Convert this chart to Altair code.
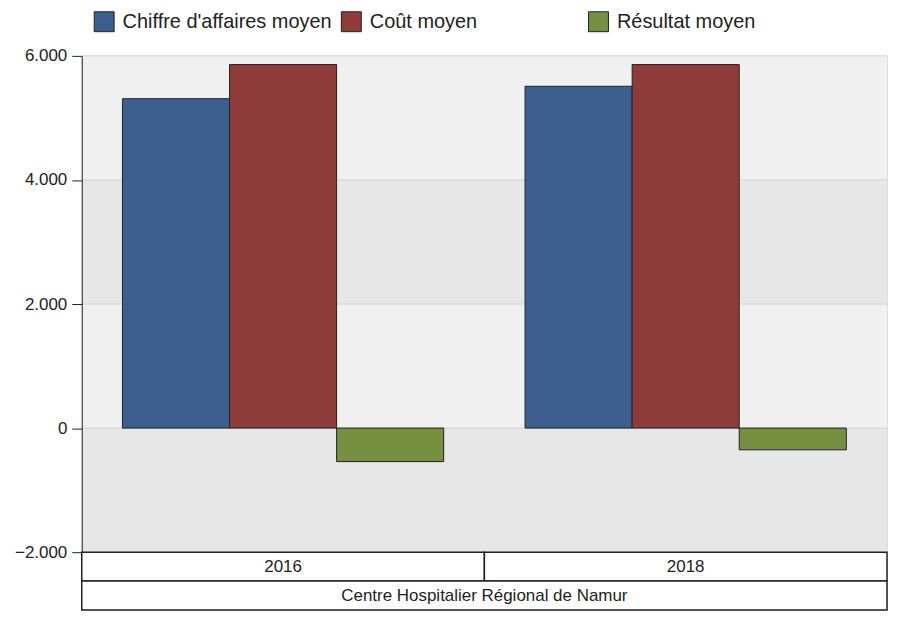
import altair as alt
import pandas as pd

# ---- data ----
annees = ["2016", "2018"]
series = ["Chiffre d'affaires moyen", "Coût moyen", "Résultat moyen"]
chiffre_affaires = [5310, 5510]
cout = [5860, 5860]
resultat = [-540, -350]
couleurs = ["#3c5f8f", "#8f3b3a", "#768f41"]
hopital = ["Centre Hospitalier Régional de Namur"]
tick_values = [-2000, 0, 2000, 4000, 6000]
bande_bas = [4000, 2000, 0, -2000]
bande_haut = [6000, 4000, 2000, 0]
bande_couleur = ["#f0f0f0", "#e7e7e7", "#f0f0f0", "#e7e7e7"]

FONT = "Liberation Sans"
W = 808
H = 498
ROW_H = 29

rows = []
for i, a in enumerate(annees):
    for s, vals in zip(series, [chiffre_affaires, cout, resultat]):
        rows.append({"annee": a, "serie": s, "valeur": vals[i]})
df = pd.DataFrame(rows)
df_bandes = pd.DataFrame({"y1": bande_bas, "y2": bande_haut, "c": bande_couleur})
df_ticks = pd.DataFrame({"v": tick_values})
df_annees = pd.DataFrame({"annee": annees})
df_hop = pd.DataFrame({"h": hopital})

yscale = alt.Scale(domain=[-2000, 6000], nice=False)
yaxis = alt.Axis(
    title=None,
    values=tick_values,
    labelExpr="replace(format(datum.value, ','), ',', '.')",
    grid=False,
    domainColor="#222222",
    tickColor="#222222",
    tickSize=10,
    labelPadding=5,
    labelFontSize=17,
    labelColor="#222222",
    labelFont=FONT,
    minExtent=68,
    maxExtent=68,
    zindex=1,
)

bands = alt.Chart(df_bandes).mark_rect().encode(
    y=alt.Y("y1:Q", scale=yscale, axis=yaxis),
    y2="y2:Q",
    fill=alt.Fill("c:N", scale=None, legend=None),
)

grid = alt.Chart(df_ticks).mark_rule(color="#d2d2d2", strokeWidth=1).encode(
    y=alt.Y("v:Q", scale=yscale, axis=yaxis),
)

bars = alt.Chart(df).mark_bar(stroke="#222222", strokeWidth=1, opacity=1).encode(
    x=alt.X("annee:N", sort=annees, scale=alt.Scale(paddingInner=0, paddingOuter=0), axis=None),
    xOffset=alt.XOffset("serie:N", sort=series, scale=alt.Scale(paddingInner=0, paddingOuter=0.38)),
    y=alt.Y("valeur:Q", scale=yscale, axis=yaxis),
    color=alt.Color(
        "serie:N",
        sort=series,
        scale=alt.Scale(domain=series, range=couleurs),
        legend=alt.Legend(
            title=None,
            orient="none",
            legendX=12,
            legendY=-45,
            direction="horizontal",
            columns=3,
            gridAlign="all",
            columnPadding=7,
            symbolType="square",
            symbolSize=400,
            symbolStrokeColor="#222222",
            symbolStrokeWidth=1,
            symbolOpacity=1,
            labelFontSize=20,
            labelFont=FONT,
            labelColor="#222222",
            labelOffset=8,
            labelLimit=400,
        ),
    ),
)

main = alt.layer(bands, grid, bars).properties(width=W, height=H)

xrow = alt.X("annee:N", sort=annees, scale=alt.Scale(paddingInner=0, paddingOuter=0), axis=None)
annee_row = alt.layer(
    alt.Chart(df_annees).mark_rect(fill="white", stroke="#222222", strokeWidth=1.5).encode(x=xrow),
    alt.Chart(df_annees).mark_text(fontSize=17, font=FONT, color="#222222").encode(x=xrow, text="annee:N"),
).properties(width=W, height=ROW_H)

xh = alt.X("h:N", scale=alt.Scale(paddingInner=0, paddingOuter=0), axis=None)
hop_row = alt.layer(
    alt.Chart(df_hop).mark_rect(fill="white", stroke="#222222", strokeWidth=1.5).encode(x=xh),
    alt.Chart(df_hop).mark_text(fontSize=17, font=FONT, color="#222222").encode(x=xh, text="h:N"),
).properties(width=W, height=ROW_H)

chart = alt.vconcat(main, annee_row, hop_row, spacing=0, bounds="flush").properties(
    padding={"left": 5, "top": 2, "right": 0, "bottom": 0}
).configure_view(strokeWidth=0).configure(font=FONT, background="white")

chart.save("out.html", embed_options={"renderer": "svg", "actions": False})
